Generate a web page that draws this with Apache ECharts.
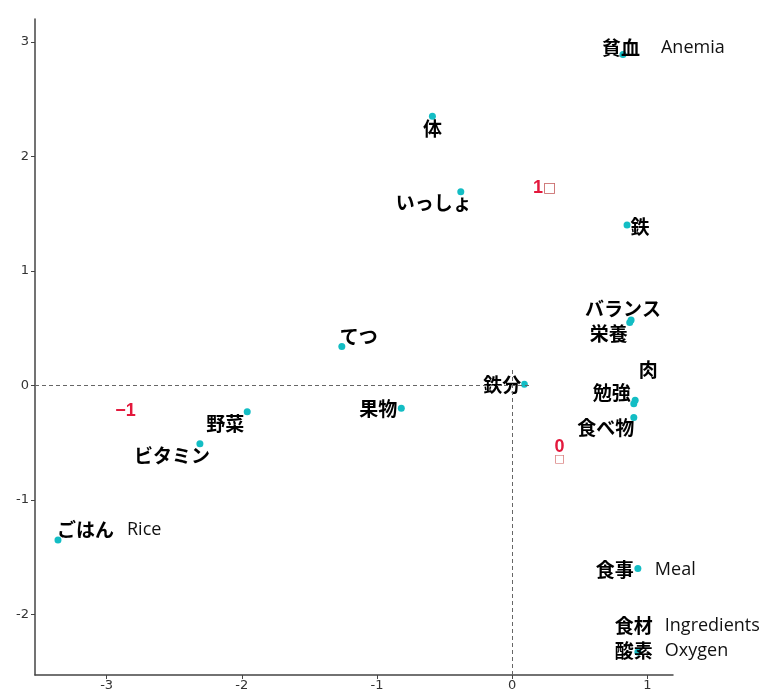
<!DOCTYPE html>
<html>
<head>
<meta charset="utf-8">
<script src="https://cdn.jsdelivr.net/npm/echarts@6/dist/echarts.min.js"></script>
<style>
  html, body { margin: 0; padding: 0; background: #fff; }
  #chart { width: 776px; height: 693px; }
</style>
</head>
<body>
<div id="chart"></div>
<script>
// words and their coordinates
const words = ['貧血', '体', 'いっしょ', '鉄', 'バランス', '栄養', '肉', '勉強', '食べ物', '鉄分',
  'てつ', '果物', '野菜', 'ビタミン', 'ごはん', '食事', '食材', '酸素']
const wordX = [0.82, -0.59, -0.38, 0.85, 0.88, 0.87, 0.91, 0.90, 0.90, 0.09,
  -1.26, -0.82, -1.96, -2.31, -3.36, 0.93, 0.90, 0.93]
const wordY = [2.89, 2.35, 1.69, 1.40, 0.57, 0.55, -0.13, -0.16, -0.28, 0.01,
  0.34, -0.20, -0.23, -0.51, -1.35, -1.60, -2.12, -2.33]
const glosses = ['Anemia', '', '', '', '', '', '', '', '', '',
  '', '', '', '', 'Rice', 'Meal', 'Ingredients', 'Oxygen']

// cluster markers in red
const clusterNames = ['1', '-1', '0']
const clusterX = [0.24, -2.86, 0.35]
const clusterY = [1.72, -0.22, -0.58]

const xTicks = [-3, -2, -1, 0, 1]
const yTicks = [-2, -1, 0, 1, 2, 3]

// label placement relative to each point: [dx, dy, align, gap before gloss]
const labelPlace = [
  [-21, -7, 'left', 21], [0, 12, 'center'], [-27, 11, 'center'], [13, 2, 'center'],
  [-8, -11, 'center'], [-21, 11, 'center'], [13, -30, 'center'], [-22, -11, 'center'],
  [-28, 10, 'center'], [-22, 1, 'center'], [17, -10, 'center'], [-23, 1, 'center'],
  [-22, 12, 'center'], [-28, 12, 'center'], [-1, -10, 'left', 13], [-42, 1, 'left', 21],
  [-19, -2, 'left', 12], [-23, -1, 'left', 12]
]
// labels drawn on a white box (they hide what is beneath them)
const boxed = ['鉄分', '食材']

const X_MIN = -3.53
const X_MAX = 1.19
const Y_MIN = -2.53
const Y_MAX = 3.2

const jpFont = '"Noto Sans CJK JP", sans-serif'

const pointData = words.map((w, i) => {
  const p = labelPlace[i]
  const rich = {
    jp: { fontSize: 19, fontWeight: 'bold', fontFamily: jpFont, color: '#000' },
    en: { fontSize: 18, fontFamily: '"Open Sans", sans-serif', color: '#111', padding: [0, 0, 0, p[3] || 0] }
  }
  return {
    value: [wordX[i], wordY[i]],
    label: {
      show: true,
      position: 'inside',
      align: p[2],
      verticalAlign: 'middle',
      offset: [p[0], p[1]],
      color: '#000',
      textBorderWidth: 0,
      formatter: glosses[i] ? `{jp|${w}}{en|${glosses[i]}}` : `{jp|${w}}`,
      rich: rich,
      backgroundColor: boxed.includes(w) ? '#fff' : 'transparent'
    }
  }
})

const clusterData = clusterNames.map((c, i) => ({
  value: [clusterX[i], clusterY[i]],
  label: {
    show: true,
    position: 'inside',
    align: 'center',
    verticalAlign: 'middle',
    textBorderWidth: 0,
    formatter: c === '0' ? '{n|0}\n{sq|□}' : (c === '1' ? '{n|1}{sq1|□}' : '{n|−1}'),
    rich: {
      n: { fontSize: 18, fontWeight: 'bold', fontFamily: 'Liberation Sans, sans-serif', color: '#e3183c', lineHeight: 14 },
      sq: { fontSize: 11, fontFamily: 'DejaVu Sans', color: '#d0605f', lineHeight: 9 },
      sq1: { fontSize: 14, fontFamily: 'DejaVu Sans', color: '#c45a5a' }
    }
  }
}))

const chart = echarts.init(document.getElementById('chart'))

const axisCommon = {
  type: 'value',
  axisLine: { show: true, onZero: false, lineStyle: { color: '#444', width: 1.5 } },
  axisTick: { show: true, length: 4, lineStyle: { color: '#444' } },
  splitLine: { show: false },
  axisLabel: { color: '#333', fontSize: 13, fontFamily: 'DejaVu Sans', margin: 4 }
}

chart.setOption({
  animation: false,
  backgroundColor: '#fff',
  grid: { left: 35, right: 103, top: 19, bottom: 18 },
  xAxis: Object.assign({}, axisCommon, {
    min: X_MIN,
    max: X_MAX,
    axisTick: Object.assign({}, axisCommon.axisTick, { customValues: xTicks }),
    axisLabel: Object.assign({}, axisCommon.axisLabel, { customValues: xTicks })
  }),
  yAxis: Object.assign({}, axisCommon, {
    min: Y_MIN,
    max: Y_MAX,
    axisTick: Object.assign({}, axisCommon.axisTick, { customValues: yTicks }),
    axisLabel: Object.assign({}, axisCommon.axisLabel, { customValues: yTicks, margin: 6 })
  }),
  series: [
    {
      type: 'scatter',
      symbolSize: 7,
      itemStyle: { color: '#13bdc4', opacity: 1 },
      data: pointData,
      markLine: {
        silent: true,
        symbol: 'none',
        label: { show: false },
        lineStyle: { color: '#666', type: [4, 3], width: 1 },
        data: [
          [{ coord: [X_MIN, 0] }, { coord: [0.14, 0] }],
          [{ coord: [0, Y_MIN] }, { coord: [0, 0.14] }]
        ]
      }
    },
    {
      type: 'scatter',
      symbol: 'circle',
      symbolSize: 1,
      itemStyle: { color: 'rgba(0,0,0,0)', opacity: 1 },
      data: clusterData
    }
  ]
})
</script>
</body>
</html>
